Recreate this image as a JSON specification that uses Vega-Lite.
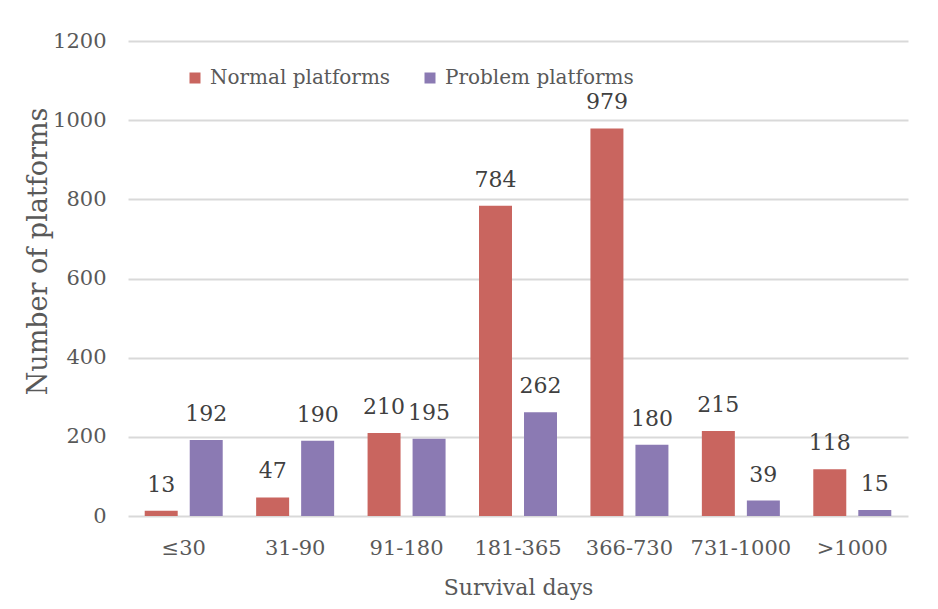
{
  "$schema": "https://vega.github.io/schema/vega-lite/v6.json",
  "width": 780,
  "height": 475,
  "autosize": {"type": "none"},
  "padding": {"left": 128, "top": 41, "right": 30, "bottom": 93},
  "background": "white",
  "config": {
    "font": "DejaVu Serif",
    "view": {"stroke": null}
  },
  "data": {
    "values": [
      {"days": "≤30", "type": "Normal platforms", "count": 13},
      {"days": "≤30", "type": "Problem platforms", "count": 192},
      {"days": "31-90", "type": "Normal platforms", "count": 47},
      {"days": "31-90", "type": "Problem platforms", "count": 190},
      {"days": "91-180", "type": "Normal platforms", "count": 210},
      {"days": "91-180", "type": "Problem platforms", "count": 195},
      {"days": "181-365", "type": "Normal platforms", "count": 784},
      {"days": "181-365", "type": "Problem platforms", "count": 262},
      {"days": "366-730", "type": "Normal platforms", "count": 979},
      {"days": "366-730", "type": "Problem platforms", "count": 180},
      {"days": "731-1000", "type": "Normal platforms", "count": 215},
      {"days": "731-1000", "type": "Problem platforms", "count": 39},
      {"days": ">1000", "type": "Normal platforms", "count": 118},
      {"days": ">1000", "type": "Problem platforms", "count": 15}
    ]
  },
  "encoding": {
    "x": {
      "field": "days", "type": "nominal", "sort": null,
      "scale": {"paddingInner": 0.3, "paddingOuter": 0.15},
      "axis": {
        "title": "Survival days", "titleFontSize": 22, "titleFontWeight": "normal",
        "titleColor": "#595959", "titlePadding": 19,
        "labelAngle": 0, "labelFontSize": 21, "labelColor": "#595959",
        "labelPadding": 21, "ticks": false, "domain": false
      }
    },
    "xOffset": {
      "field": "type", "type": "nominal",
      "scale": {"paddingInner": 0.267, "paddingOuter": 0}
    },
    "y": {
      "field": "count", "type": "quantitative",
      "scale": {"domain": [0, 1200], "nice": false},
      "axis": {
        "title": "Number of platforms", "titleFontSize": 27, "titleFontWeight": "normal",
        "titleColor": "#595959", "titlePadding": 0, "titleY": 210,
        "values": [0, 200, 400, 600, 800, 1000, 1200], "format": "d",
        "labelFontSize": 21, "labelColor": "#595959", "labelPadding": 22,
        "ticks": false, "domain": false,
        "gridColor": "#D9D9D9", "gridWidth": 2
      }
    }
  },
  "layer": [
    {
      "mark": {"type": "bar"},
      "encoding": {
        "color": {
          "field": "type", "type": "nominal",
          "scale": {"domain": ["Normal platforms", "Problem platforms"], "range": ["#C9655F", "#8B7AB3"]},
          "legend": {
            "title": null, "orient": "none", "direction": "horizontal",
            "legendX": 57, "legendY": 27,
            "symbolType": "square", "symbolSize": 121, "symbolStrokeWidth": 0,
            "labelFontSize": 20, "labelColor": "#595959", "labelOffset": 5,
            "columnPadding": 29, "labelLimit": 300
          }
        }
      }
    },
    {
      "mark": {"type": "text", "baseline": "bottom", "dy": -14, "fontSize": 22, "color": "#404040"},
      "encoding": {
        "text": {"field": "count", "type": "quantitative"}
      }
    }
  ]
}
